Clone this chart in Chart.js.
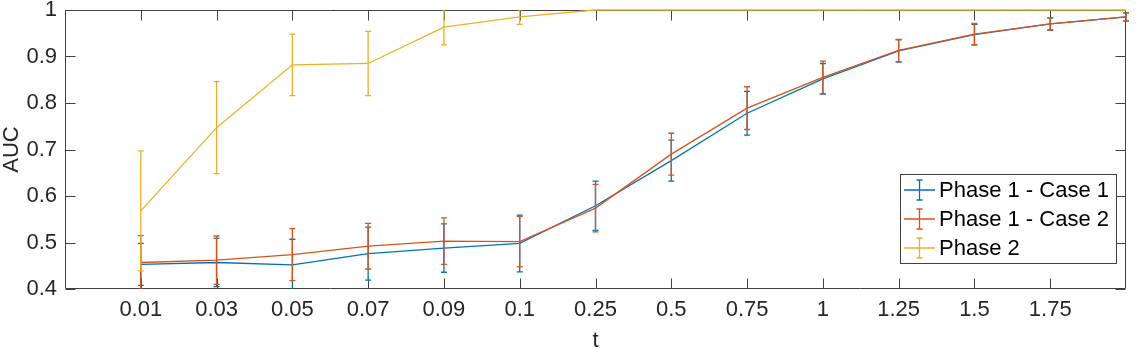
<!DOCTYPE html>
<html><head><meta charset="utf-8">
<script src="https://cdn.jsdelivr.net/npm/chart.js@4/dist/chart.umd.min.js"></script>
<style>html,body{margin:0;padding:0;background:#fff;}canvas{display:block;}</style>
</head><body>
<canvas id="c" width="1136" height="349"></canvas>
<script>
// ---- data ----
const categories = ['0.01','0.03','0.05','0.07','0.09','0.1','0.25','0.5','0.75','1','1.25','1.5','1.75','2'];
const tickLabels = ['0.01','0.03','0.05','0.07','0.09','0.1','0.25','0.5','0.75','1','1.25','1.5','1.75'];
const yTickValues = [0.4,0.5,0.6,0.7,0.8,0.9,1.0];
const yTickLabels = ['0.4','0.5','0.6','0.7','0.8','0.9','1'];
const seriesNames = ['Phase 1 - Case 1','Phase 1 - Case 2','Phase 2'];
const case1 = [0.453,0.457,0.452,0.476,0.488,0.498,0.579,0.676,0.778,0.852,0.912,0.947,0.970,0.985];
const case1Err = [0.045,0.052,0.055,0.057,0.052,0.061,0.053,0.044,0.047,0.033,0.024,0.022,0.013,0.009];
const case2 = [0.457,0.462,0.474,0.492,0.503,0.502,0.574,0.690,0.789,0.855,0.913,0.948,0.970,0.985];
const case2Err = [0.058,0.052,0.056,0.049,0.050,0.054,0.051,0.045,0.046,0.035,0.024,0.023,0.013,0.009];
const phase2 = [0.568,0.747,0.882,0.885,0.963,0.985,1,1,1,1,1,1,1,1];
const phase2Err = [0.129,0.099,0.066,0.069,0.038,0.016,0,0,0,0,0,0,0,0];

const COLORS = ['#0072BD','#D95319','#EDB120'];
const FAMILY = "'Liberation Sans', Arial, Helvetica, sans-serif";
const TEXT = '#262626';
const AXIS = '#404040';

const toPts = arr => arr.map((v,i)=>({x:i+1,y:v}));

const errorBarPlugin = {
  id:'errorBars',
  afterDatasetDraw(chart, args){
    const ds = chart.data.datasets[args.index];
    const errs = ds.errs; if(!errs) return;
    const {ctx, chartArea:a, scales:{x,y}} = chart;
    ctx.save();
    ctx.beginPath(); ctx.rect(a.left-8, a.top, a.right-a.left+16, a.bottom-a.top); ctx.clip();
    ctx.strokeStyle = ds.borderColor; ctx.lineWidth = ds.borderWidth;
    ds.data.forEach((p,i)=>{
      const e = errs[i]; if(!e) return;
      const px = x.getPixelForValue(p.x);
      const t = y.getPixelForValue(p.y+e), b = y.getPixelForValue(p.y-e);
      ctx.beginPath();
      ctx.moveTo(px,t); ctx.lineTo(px,b);
      ctx.moveTo(px-3,t); ctx.lineTo(px+3,t);
      ctx.moveTo(px-3,b); ctx.lineTo(px+3,b);
      ctx.stroke();
    });
    ctx.restore();
  }
};

const boxPlugin = {
  id:'matlabBox',
  beforeDatasetsDraw(chart){
    const {ctx, chartArea:a, scales:{x,y}} = chart;
    ctx.save();
    ctx.strokeStyle = AXIS; ctx.lineWidth = 1;
    const L=Math.round(a.left)+0.5, R=Math.round(a.right)-0.5, T=Math.round(a.top)+0.5, B=Math.round(a.bottom)-0.5;
    ctx.beginPath(); ctx.rect(L,T,R-L,B-T); ctx.stroke();
    ctx.beginPath();
    const tl = 10;
    tickLabels.forEach((_,i)=>{
      const px = Math.round(x.getPixelForValue(i+1))+0.5;
      ctx.moveTo(px,B); ctx.lineTo(px,B-tl);
      ctx.moveTo(px,T); ctx.lineTo(px,T+tl);
    });
    yTickValues.forEach(v=>{
      const py = Math.round(y.getPixelForValue(v))+0.5;
      ctx.moveTo(L,py); ctx.lineTo(L+tl,py);
      ctx.moveTo(R,py); ctx.lineTo(R-tl,py);
    });
    ctx.stroke();
    ctx.restore();
  }
};

const legendPlugin = {
  id:'matlabLegend',
  afterDatasetsDraw(chart){
    const {ctx, chartArea:a} = chart;
    ctx.save();
    ctx.font = '22px ' + FAMILY;
    const tw = Math.max(...seriesNames.map(s=>ctx.measureText(s).width));
    const right = a.right - 10, bottom = a.bottom - 26;
    const w = 4 + 31 + 4 + tw + 7, rowH = 29, h = rowH*3 + 2;
    const left = right - w, top = bottom - h;
    ctx.fillStyle = '#fff';
    ctx.fillRect(left, top, w, h);
    ctx.strokeStyle = AXIS; ctx.lineWidth = 1;
    ctx.strokeRect(Math.round(left)+0.5, Math.round(top)+0.5, Math.round(w), Math.round(h));
    seriesNames.forEach((name,i)=>{
      const cy = top + 16 + i*rowH;
      const x0 = left + 4, x1 = x0 + 31, xc = (x0+x1)/2;
      ctx.strokeStyle = COLORS[i]; ctx.lineWidth = 1.3;
      ctx.beginPath();
      ctx.moveTo(x0,cy); ctx.lineTo(x1,cy);
      ctx.moveTo(xc,cy-10); ctx.lineTo(xc,cy+10);
      ctx.moveTo(xc-3,cy-10); ctx.lineTo(xc+3,cy-10);
      ctx.moveTo(xc-3,cy+10); ctx.lineTo(xc+3,cy+10);
      ctx.stroke();
      ctx.fillStyle = '#000'; ctx.textBaseline = 'middle'; ctx.textAlign = 'left';
      ctx.fillText(name, x1 + 4, cy + 1);
    });
    ctx.restore();
  }
};

const mk = (label, vals, errs, color, order) => ({
  label, data: toPts(vals), errs, borderColor: color, backgroundColor: color,
  borderWidth: 1.3, pointRadius: 0, tension: 0, fill: false, order,
  clip: {left:3, right:3, top:3, bottom:3}
});

new Chart(document.getElementById('c'), {
  type:'line',
  data:{ datasets:[
    mk(seriesNames[0], case1, case1Err, COLORS[0], 2),
    mk(seriesNames[1], case2, case2Err, COLORS[1], 1),
    mk(seriesNames[2], phase2, phase2Err, COLORS[2], 0)
  ]},
  options:{
    responsive:false, animation:false, devicePixelRatio:1,
    layout:{padding:{top:0,right:10,left:0,bottom:0}},
    plugins:{legend:{display:false}, tooltip:{enabled:false}},
    scales:{
      x:{
        type:'linear', min:0, max:categories.length,
        afterBuildTicks: s => { s.ticks = tickLabels.map((_,i)=>({value:i+1})); },
        ticks:{autoSkip:false, maxRotation:0, padding:8, color:TEXT, font:{size:22, family:FAMILY},
          callback:(v)=> tickLabels[v-1] ?? ''},
        grid:{display:false, drawTicks:false}, border:{display:false},
        title:{display:true, text:'t', color:TEXT, font:{size:22, family:FAMILY, lineHeight:1}, padding:{top:0,bottom:-3}},
        afterFit: s => { s.height = 60; s.paddingLeft = 0; s.paddingRight = 0; }
      },
      y:{
        min:0.4, max:1,
        afterBuildTicks: s => { s.ticks = yTickValues.map(v=>({value:v})); },
        ticks:{padding:8, color:TEXT, font:{size:22, family:FAMILY},
          callback:(v)=> yTickLabels[yTickValues.findIndex(t=>Math.abs(t-v)<1e-9)] ?? ''},
        grid:{display:false, drawTicks:false}, border:{display:false},
        title:{display:true, text:'AUC', color:TEXT, font:{size:22, family:FAMILY, lineHeight:1}, padding:{top:1,bottom:0}},
        afterFit: s => { s.width = 65; s.paddingTop = 10; s.paddingBottom = 0; }
      }
    }
  },
  plugins:[boxPlugin, errorBarPlugin, legendPlugin]
});
</script>
</body></html>
